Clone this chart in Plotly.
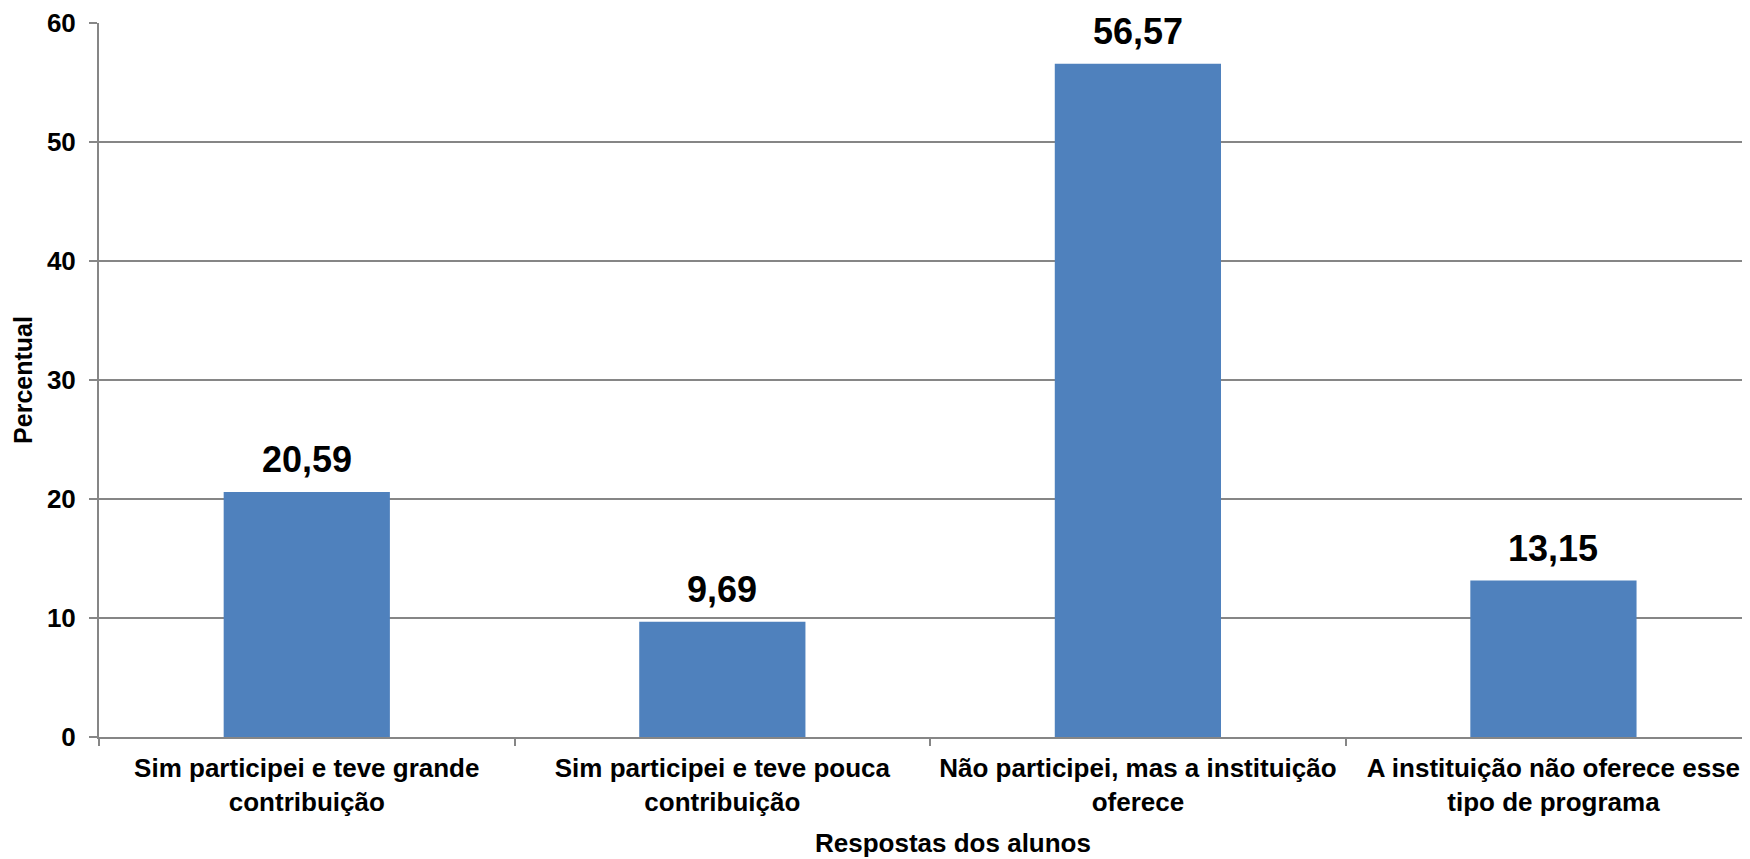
import plotly.graph_objects as go

categories = [
    "Sim participei e teve grande<br>contribuição",
    "Sim participei e teve pouca<br>contribuição",
    "Não participei, mas a instituição<br>oferece",
    "A instituição não oferece esse<br>tipo de programa",
]
values = [20.59, 9.69, 56.57, 13.15]
value_labels = ["20,59", "9,69", "56,57", "13,15"]
y_ticks = [0, 10, 20, 30, 40, 50, 60]

FONT = "Liberation Sans, Arial, sans-serif"
GRID = "#868686"
BAR = "#4F81BD"

fig = go.Figure()
fig.add_trace(go.Bar(
    x=categories,
    y=values,
    width=0.4,
    marker=dict(color=BAR, line=dict(width=0)),
    hoverinfo="skip",
))

for c, v, lab in zip(categories, values, value_labels):
    fig.add_annotation(
        x=c, y=v, text=f"<b>{lab}</b>", showarrow=False,
        xanchor="center", yanchor="bottom", yshift=10,
        font=dict(family=FONT, size=36, color="#000000"),
    )

fig.add_annotation(
    x=0.5173, xref="paper", y=0, yref="paper", text="<b>Respostas dos alunos</b>",
    showarrow=False, xanchor="center", yanchor="bottom", yshift=-122,
    borderpad=0,
    font=dict(family=FONT, size=26, color="#000000"),
)

# the page body adds an 8px offset; the figure is sized so the plot lands where the reference has it
fig.update_layout(
    width=1742, height=851,
    margin=dict(l=91, r=0, t=15, b=122),
    paper_bgcolor="white", plot_bgcolor="white",
    showlegend=False,
    font=dict(family=FONT, size=26, color="#000000"),
)

fig.update_xaxes(
    type="category",
    range=[-0.5, 3.473],
    tickson="boundaries",
    ticks="outside", ticklen=7, tickwidth=2, tickcolor=GRID,
    showline=True, linecolor=GRID, linewidth=2,
    showgrid=False, zeroline=False,
    tickfont=dict(family=FONT, size=26, color="#000000", weight="bold"),
    ticklabelstandoff=7,
    automargin=False,
)
fig.update_yaxes(
    range=[0, 60],
    tickmode="array", tickvals=y_ticks,
    ticktext=[f"<b>{t}</b>" for t in y_ticks],
    ticks="outside", ticklen=8, tickwidth=2, tickcolor=GRID,
    showline=True, linecolor=GRID, linewidth=2,
    showgrid=True, gridcolor=GRID, gridwidth=2,
    zeroline=False,
    tickfont=dict(family=FONT, size=26, color="#000000"),
    ticklabelstandoff=8,
    automargin=False,
    title=dict(text="<b>Percentual</b>", font=dict(family=FONT, size=25, color="#000000"), standoff=7),
)

fig.write_html("out.html")
